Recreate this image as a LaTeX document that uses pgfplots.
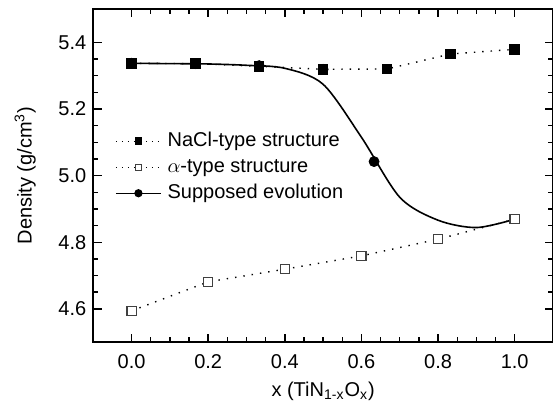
\documentclass[border=0pt]{standalone}
\usepackage{pgfplots}
\pgfplotsset{compat=1.18}
\usepackage{fontspec}
\setmainfont{Liberation Sans}

\tikzset{dotline/.style={line width=0.7pt,dash pattern=on 0.7pt off 3.5pt}}

\begin{document}
\begin{tikzpicture}[font=\fontsize{10}{12}\selectfont]
 \begin{axis}[scale only axis,width=230pt,height=166.67pt,
  xmin=-0.1,xmax=1.1,ymin=4.5,ymax=5.5,
  xtick={0,0.2,0.4,0.6,0.8,1.0},ytick={4.6,4.8,5.0,5.2,5.4},
  minor x tick num=3,minor y tick num=3,
  tick align=inside,xtick pos=both,ytick pos=both,
  xticklabel pos=lower,yticklabel pos=left,
  major tick length=4.2pt,minor tick length=2.5pt,
  axis line style={line width=0.75pt},
  every tick/.style={black,line width=0.7pt},
  /pgf/number format/.cd,fixed,fixed zerofill,precision=1,assume math mode=true,
  /pgfplots/.cd,
  xticklabel style={yshift=-2.5pt},
  xlabel={x (TiN\textsubscript{1-x}O\textsubscript{x})},
  ylabel={Density (g/cm\textsuperscript{3})},
  xlabel style={yshift=0pt},
  ylabel style={yshift=4.5pt},
  clip=false,
  legend cell align=left,
  legend image code/.code={\draw[mark repeat=2,mark phase=2,#1] plot coordinates {(0pt,0pt) (11.25pt,0pt) (22.5pt,0pt)};},
  legend style={draw=none,fill=none,at={(rel axis cs:0.047,0.525)},anchor=west,
   inner sep=0pt,row sep=3.3pt,column sep=3pt,
   nodes={inner sep=0pt,text height=7.5pt,text depth=2.2pt}},
 ]
  % NaCl-type structure
  \addplot[dotline,mark=square*,mark size=2.33pt,mark options={solid,black},forget plot] coordinates {
   (0,5.337)(0.167,5.336)(0.333,5.328)(0.5,5.319)(0.667,5.320)(0.833,5.365)(1.0,5.379)};
  % alpha-type structure
  \addplot[dotline,mark=square*,mark size=2.33pt,mark options={solid,draw=black!75,fill=white,line width=0.6pt},forget plot] coordinates {
   (0,4.594)(0.2,4.681)(0.4,4.719)(0.6,4.759)(0.8,4.809)(1.0,4.869)};
  % supposed evolution
  \addplot[black,line width=0.8pt,smooth,forget plot] coordinates {
   (0,5.337)(0.1,5.336)(0.2,5.335)(0.3,5.331)(0.4,5.322)(0.5,5.274)(0.6,5.115)
   (0.7,4.935)(0.8,4.866)(0.9,4.844)(1.0,4.869)};
  \addplot[black,only marks,mark=*,mark size=2.5pt,forget plot] coordinates {
   (0,5.337)(0.167,5.336)(0.333,5.330)(0.5,5.319)(0.633,5.042)};
  \addlegendimage{dotline,dash pattern=on 0.7pt off 2.3pt,mark=square*,mark size=1.6pt,mark options={solid,black}}
  \addlegendentry{NaCl-type structure}
  \addlegendimage{dotline,dash pattern=on 0.7pt off 2.3pt,mark=square*,mark size=1.6pt,mark options={solid,draw=black!75,fill=white,line width=0.5pt}}
  \addlegendentry{$\alpha$-type structure}
  \addlegendimage{black,line width=0.7pt,mark=*,mark size=1.7pt}
  \addlegendentry{Supposed evolution}
 \end{axis}
 \pgfresetboundingbox
 \path[use as bounding box] ([xshift=-46.65pt,yshift=-29.65pt]current axis.south west)
  rectangle ([yshift=4.5pt]current axis.north east);
\end{tikzpicture}
\end{document}
